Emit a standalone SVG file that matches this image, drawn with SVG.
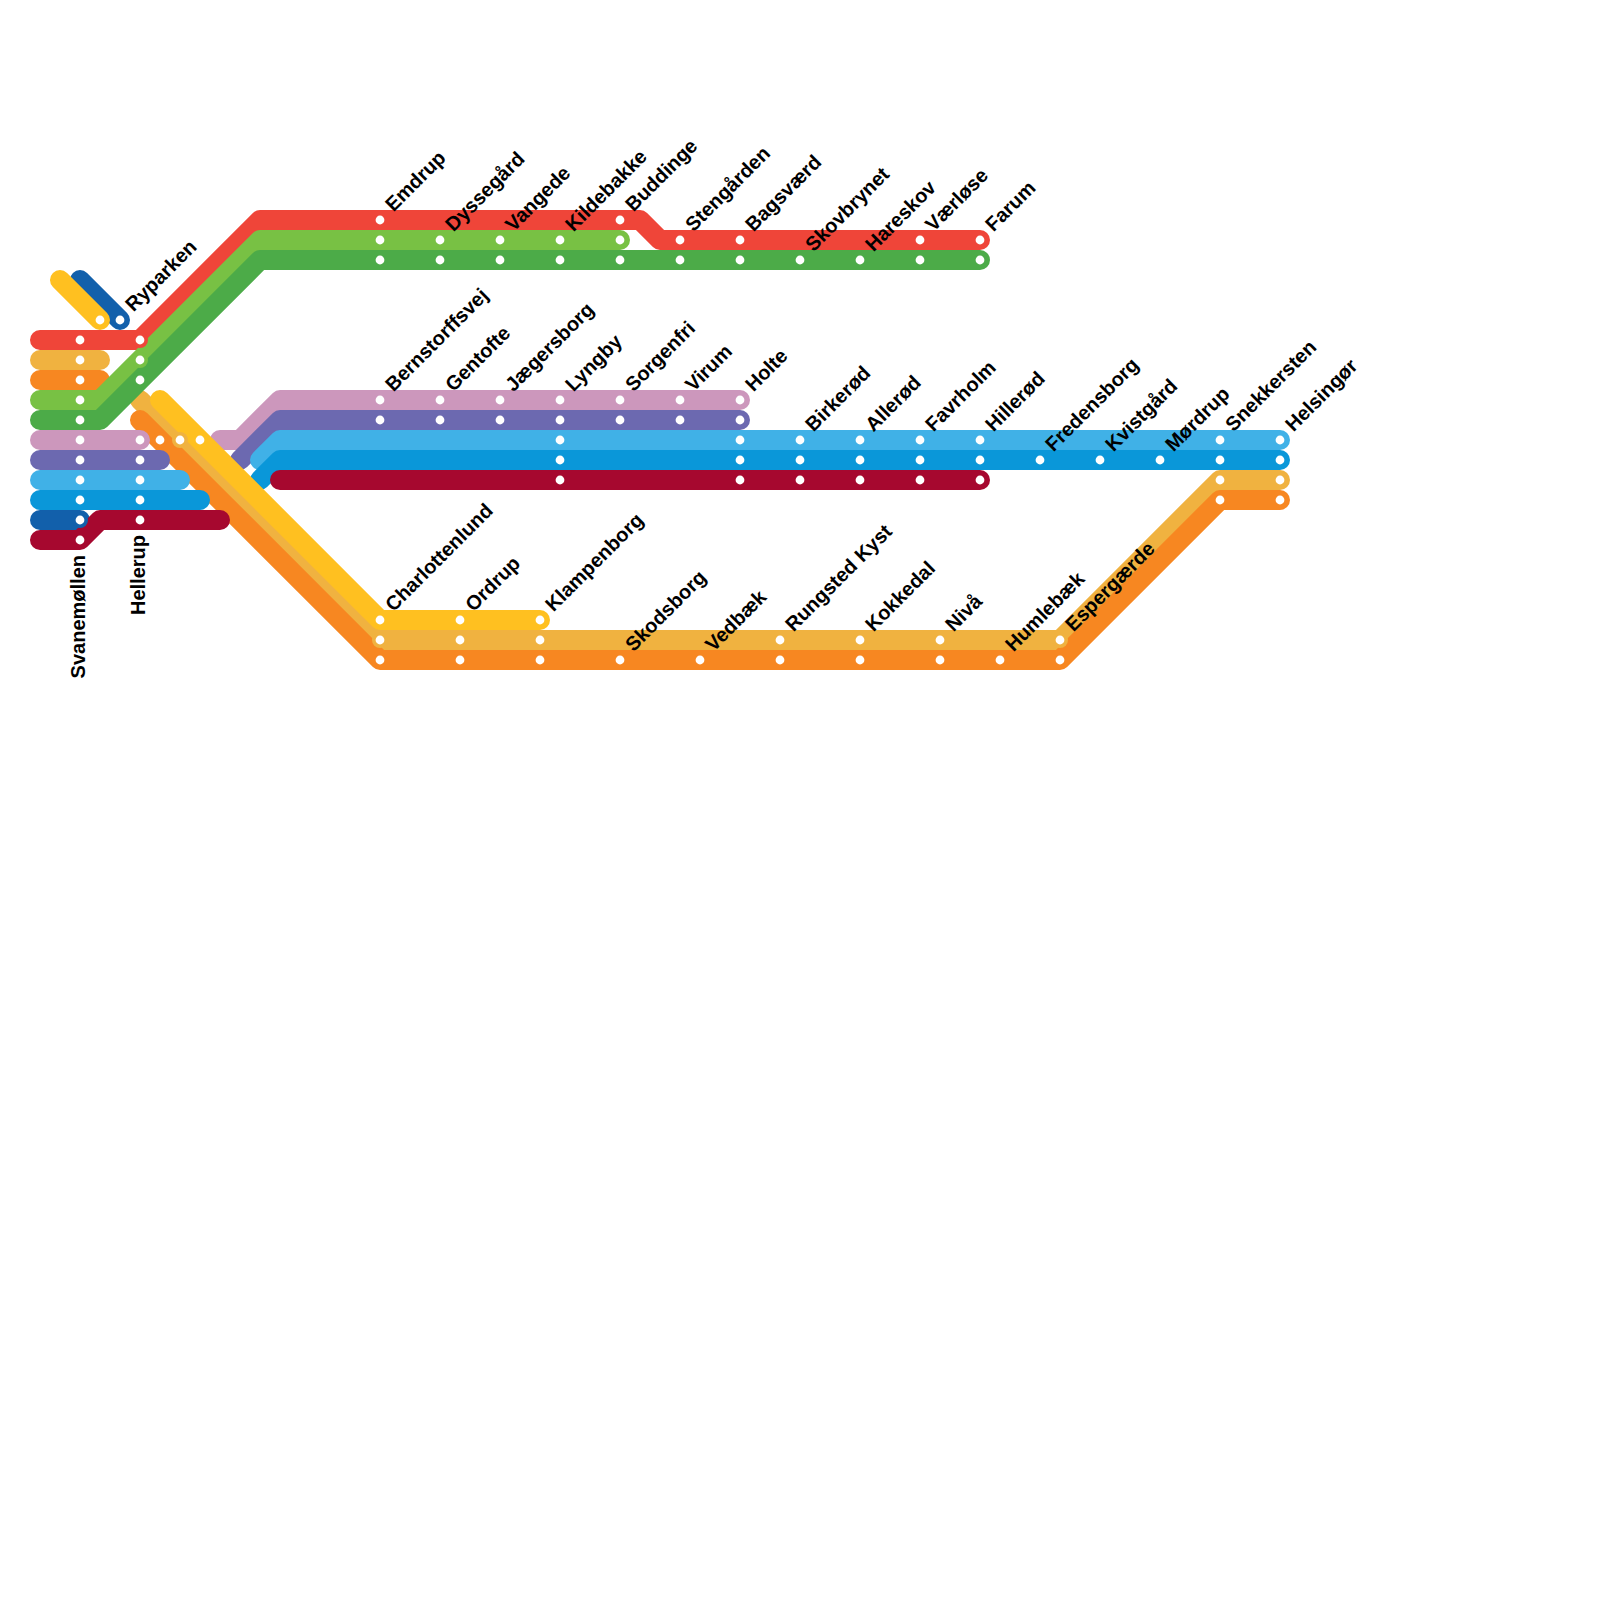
<svg xmlns="http://www.w3.org/2000/svg" width="1600" height="1600" viewBox="0 0 1600 1600">
<style>
.l{fill:none;stroke-width:20;stroke-linecap:round;stroke-linejoin:round}
.red{stroke:#ef4539}.lo{stroke:#f0b240}.or{stroke:#f78721}.lg{stroke:#78c144}.dg{stroke:#4cab48}.pk{stroke:#cc97bc}.pu{stroke:#6c69b0}.lb{stroke:#40b1e7}.db{stroke:#0a97d9}.nv{stroke:#1260ab}.cr{stroke:#a6082f}.ye{stroke:#ffc020}
.fred{fill:#ef4539}.flo{fill:#f0b240}.for{fill:#f78721}.flg{fill:#78c144}.fdg{fill:#4cab48}.fnv{fill:#1260ab}.fye{fill:#ffc020}
.h{}
.s{fill:#fff}
text{font-family:"Liberation Sans",Arial,sans-serif;font-size:20px;font-weight:700;fill:#000}
.v{text-anchor:end}
</style>
<defs><circle id="d" r="4.4" class="s"/><circle id="r" r="8"/></defs>
<g id="connectors">
<path class="l pk" d="M220 440H240L280 400H740"/>
<path class="l pu" d="M240 460L280 420H740"/>
<path class="l lb" d="M260 460L280 440H1280"/>
<path class="l db" d="M260 480L280 460H1280"/>
<path class="l cr" d="M280 480H980"/>
<path class="l or" d="M40 380H100"/>
<path class="l lo" d="M140 400L380 640H1060L1220 480H1280"/>
<path class="l or" d="M140 420L380 660H1060L1220 500H1280"/>
<path class="l pk" d="M40 440H140"/>
<path class="l pu" d="M40 460H160"/>
<path class="l lb" d="M40 480H180"/>
<path class="l db" d="M40 500H200"/>
<path class="l nv" d="M40 520H80"/>
<path class="l cr" d="M40 540H80L100 520H220"/>
<path class="l lo" d="M40 360H100"/>
<path class="l nv" d="M80 280L120 320"/>
<path class="l ye" d="M60 280L100 320"/>
<path class="l ye" d="M160 400L380 620H540"/>
<path class="l red" d="M40 340H140L260 220H640L660 240H980"/>
<path class="l lg" d="M40 400H100L260 240H620"/>
<path class="l dg" d="M40 420H100L260 260H980"/>
</g>
<g id="station-rings">
<use href="#r" class="fred" x="140" y="340"/><use href="#r" class="flg" x="140" y="360"/><use href="#r" class="fdg" x="140" y="380"/>
<use href="#r" class="for" x="160" y="440"/><use href="#r" class="flo" x="180" y="440"/><use href="#r" class="fye" x="200" y="440"/>
<use href="#r" class="fnv" x="80" y="520"/>
<use href="#r" class="flo" x="380" y="640"/><use href="#r" class="flo" x="1060" y="640"/>
</g>
<g id="stations">
<use href="#d" x="100" y="320"/><use href="#d" x="120" y="320"/>
<use href="#d" x="80" y="340"/><use href="#d" x="80" y="360"/><use href="#d" x="80" y="380"/><use href="#d" x="80" y="400"/><use href="#d" x="80" y="420"/><use href="#d" x="80" y="440"/><use href="#d" x="80" y="460"/><use href="#d" x="80" y="480"/><use href="#d" x="80" y="500"/><use href="#d" x="80" y="520"/><use href="#d" x="80" y="540"/>
<use href="#d" x="140" y="340"/><use href="#d" x="140" y="360"/><use href="#d" x="140" y="380"/><use href="#d" x="140" y="440"/><use href="#d" x="140" y="460"/><use href="#d" x="140" y="480"/><use href="#d" x="140" y="500"/><use href="#d" x="140" y="520"/>
<use href="#d" x="160" y="440"/><use href="#d" x="180" y="440"/><use href="#d" x="200" y="440"/>
<use href="#d" x="380" y="220"/><use href="#d" x="620" y="220"/>
<use href="#d" x="380" y="240"/><use href="#d" x="440" y="240"/><use href="#d" x="500" y="240"/><use href="#d" x="560" y="240"/><use href="#d" x="620" y="240"/><use href="#d" x="680" y="240"/><use href="#d" x="740" y="240"/><use href="#d" x="920" y="240"/><use href="#d" x="980" y="240"/>
<use href="#d" x="380" y="260"/><use href="#d" x="440" y="260"/><use href="#d" x="500" y="260"/><use href="#d" x="560" y="260"/><use href="#d" x="620" y="260"/><use href="#d" x="680" y="260"/><use href="#d" x="740" y="260"/><use href="#d" x="800" y="260"/><use href="#d" x="860" y="260"/><use href="#d" x="920" y="260"/><use href="#d" x="980" y="260"/>
<use href="#d" x="380" y="400"/><use href="#d" x="440" y="400"/><use href="#d" x="500" y="400"/><use href="#d" x="560" y="400"/><use href="#d" x="620" y="400"/><use href="#d" x="680" y="400"/><use href="#d" x="740" y="400"/>
<use href="#d" x="380" y="420"/><use href="#d" x="440" y="420"/><use href="#d" x="500" y="420"/><use href="#d" x="560" y="420"/><use href="#d" x="620" y="420"/><use href="#d" x="680" y="420"/><use href="#d" x="740" y="420"/>
<use href="#d" x="560" y="440"/><use href="#d" x="740" y="440"/><use href="#d" x="800" y="440"/><use href="#d" x="860" y="440"/><use href="#d" x="920" y="440"/><use href="#d" x="980" y="440"/><use href="#d" x="1220" y="440"/><use href="#d" x="1280" y="440"/>
<use href="#d" x="560" y="460"/><use href="#d" x="740" y="460"/><use href="#d" x="800" y="460"/><use href="#d" x="860" y="460"/><use href="#d" x="920" y="460"/><use href="#d" x="980" y="460"/><use href="#d" x="1040" y="460"/><use href="#d" x="1100" y="460"/><use href="#d" x="1160" y="460"/><use href="#d" x="1220" y="460"/><use href="#d" x="1280" y="460"/>
<use href="#d" x="560" y="480"/><use href="#d" x="740" y="480"/><use href="#d" x="800" y="480"/><use href="#d" x="860" y="480"/><use href="#d" x="920" y="480"/><use href="#d" x="980" y="480"/><use href="#d" x="1220" y="480"/><use href="#d" x="1280" y="480"/>
<use href="#d" x="1220" y="500"/><use href="#d" x="1280" y="500"/>
<use href="#d" x="380" y="620"/><use href="#d" x="460" y="620"/><use href="#d" x="540" y="620"/>
<use href="#d" x="380" y="640"/><use href="#d" x="460" y="640"/><use href="#d" x="540" y="640"/><use href="#d" x="780" y="640"/><use href="#d" x="860" y="640"/><use href="#d" x="940" y="640"/><use href="#d" x="1060" y="640"/>
<use href="#d" x="380" y="660"/><use href="#d" x="460" y="660"/><use href="#d" x="540" y="660"/><use href="#d" x="620" y="660"/><use href="#d" x="700" y="660"/><use href="#d" x="780" y="660"/><use href="#d" x="860" y="660"/><use href="#d" x="940" y="660"/><use href="#d" x="1000" y="660"/><use href="#d" x="1060" y="660"/>
</g>
<g id="labels">
<text class="v" transform="translate(85 555) rotate(-90)">Svanemøllen</text>
<text class="v" transform="translate(145 535) rotate(-90)">Hellerup</text>
<text transform="translate(133.5 312.5) rotate(-45)">Ryparken</text>
<text transform="translate(393.5 212.5) rotate(-45)">Emdrup</text>
<text transform="translate(453.5 232.5) rotate(-45)">Dyssegård</text>
<text transform="translate(513.5 232.5) rotate(-45)">Vangede</text>
<text transform="translate(573.5 232.5) rotate(-45)">Kildebakke</text>
<text transform="translate(633.5 212.5) rotate(-45)">Buddinge</text>
<text transform="translate(693.5 232.5) rotate(-45)">Stengården</text>
<text transform="translate(753.5 232.5) rotate(-45)">Bagsværd</text>
<text transform="translate(813.5 252.5) rotate(-45)">Skovbrynet</text>
<text transform="translate(873.5 252.5) rotate(-45)">Hareskov</text>
<text transform="translate(933.5 232.5) rotate(-45)">Værløse</text>
<text transform="translate(993.5 232.5) rotate(-45)">Farum</text>
<text transform="translate(393.5 392.5) rotate(-45)">Bernstorffsvej</text>
<text transform="translate(453.5 392.5) rotate(-45)">Gentofte</text>
<text transform="translate(513.5 392.5) rotate(-45)">Jægersborg</text>
<text transform="translate(573.5 392.5) rotate(-45)">Lyngby</text>
<text transform="translate(633.5 392.5) rotate(-45)">Sorgenfri</text>
<text transform="translate(693.5 392.5) rotate(-45)">Virum</text>
<text transform="translate(753.5 392.5) rotate(-45)">Holte</text>
<text transform="translate(813.5 432.5) rotate(-45)">Birkerød</text>
<text transform="translate(873.5 432.5) rotate(-45)">Allerød</text>
<text transform="translate(933.5 432.5) rotate(-45)">Favrholm</text>
<text transform="translate(993.5 432.5) rotate(-45)">Hillerød</text>
<text transform="translate(1053.5 452.5) rotate(-45)">Fredensborg</text>
<text transform="translate(1113.5 452.5) rotate(-45)">Kvistgård</text>
<text transform="translate(1173.5 452.5) rotate(-45)">Mørdrup</text>
<text transform="translate(1233.5 432.5) rotate(-45)">Snekkersten</text>
<text transform="translate(1293.5 432.5) rotate(-45)">Helsingør</text>
<text transform="translate(393.5 612.5) rotate(-45)">Charlottenlund</text>
<text transform="translate(473.5 612.5) rotate(-45)">Ordrup</text>
<text transform="translate(553.5 612.5) rotate(-45)">Klampenborg</text>
<text transform="translate(633.5 652.5) rotate(-45)">Skodsborg</text>
<text transform="translate(713.5 652.5) rotate(-45)">Vedbæk</text>
<text transform="translate(793.5 632.5) rotate(-45)">Rungsted Kyst</text>
<text transform="translate(873.5 632.5) rotate(-45)">Kokkedal</text>
<text transform="translate(953.5 632.5) rotate(-45)">Nivå</text>
<text transform="translate(1013.5 652.5) rotate(-45)">Humlebæk</text>
<text transform="translate(1073.5 632.5) rotate(-45)">Espergærde</text>
</g>
</svg>
